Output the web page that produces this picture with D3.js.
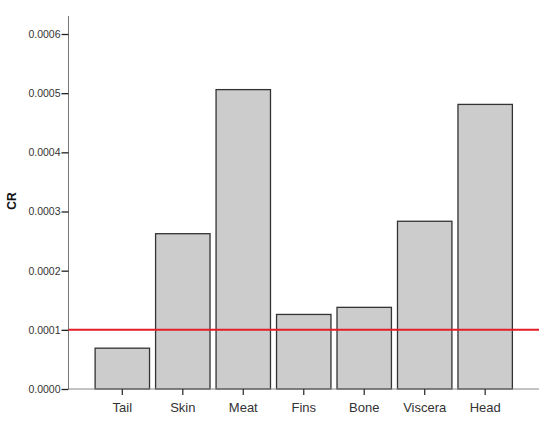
<!DOCTYPE html>
<html><head><meta charset="utf-8">
<script src="https://cdn.jsdelivr.net/npm/d3@7/dist/d3.min.js"></script>
<style>body{margin:0;background:#fff}svg{display:block}</style>
</head><body>
<script>
const categories = ["Tail","Skin","Meat","Fins","Bone","Viscera","Head"];
const values = [0.000069, 0.0002625, 0.000506, 0.000126, 0.000138, 0.0002835, 0.000481];
const yTicks = [0, 0.0001, 0.0002, 0.0003, 0.0004, 0.0005, 0.0006];
const yTickLabels = ["0.0000","0.0001","0.0002","0.0003","0.0004","0.0005","0.0006"];
const refLine = 0.0001;
const yLabel = "CR";

(function(){
const W = 550, H = 423;
const svg = d3.select("body").append("svg").attr("width", W).attr("height", H);

const mLeft = 68.5, mRight = 539, mTop = 16, mBottom = 389;
const y = d3.scaleLinear().domain([0, 0.0006]).range([mBottom, 34]);
const x = d3.scaleBand().domain(categories).range([mLeft, mRight]).paddingInner(0.1).paddingOuter(0.44);

// bars
svg.selectAll("rect.bar").data(categories).enter().append("rect")
  .attr("class","bar")
  .attr("x", d => x(d))
  .attr("y", (d,i) => y(values[i]))
  .attr("width", x.bandwidth())
  .attr("height", (d,i) => y(0) - y(values[i]))
  .attr("fill", "#cccccc")
  .attr("stroke", "#333333")
  .attr("stroke-width", 1.3);

// y axis line
svg.append("line").attr("x1", mLeft).attr("x2", mLeft).attr("y1", mTop).attr("y2", mBottom)
  .attr("stroke", "#777").attr("stroke-width", 1);
// x axis line
svg.append("line").attr("x1", mLeft).attr("x2", mRight).attr("y1", mBottom).attr("y2", mBottom)
  .attr("stroke", "#888").attr("stroke-width", 1);

// y ticks
const yAxis = d3.axisLeft(y).tickValues(yTicks).tickSize(7).tickPadding(1)
  .tickFormat((d,i) => yTickLabels[i]);
const gy = svg.append("g").attr("transform", `translate(${mLeft},0)`).call(yAxis);
gy.select(".domain").remove();
gy.selectAll(".tick line").attr("stroke", "#222").attr("stroke-width", 1.3);
gy.selectAll(".tick text").attr("fill", "#333").style("font-family", "Arial, 'Liberation Sans', sans-serif").style("font-size", "10.5px");

// x ticks
const xAxis = d3.axisBottom(x).tickSize(6).tickPadding(8);
const gx = svg.append("g").attr("transform", `translate(0,${mBottom})`).call(xAxis);
gx.select(".domain").remove();
gx.selectAll(".tick line").attr("stroke", "#333").attr("stroke-width", 1.3);
gx.selectAll(".tick text").attr("fill", "#333").style("font-family", "Arial, 'Liberation Sans', sans-serif").style("font-size", "13px");

// reference line
svg.append("line").attr("x1", mLeft).attr("x2", mRight).attr("y1", y(refLine)).attr("y2", y(refLine))
  .attr("stroke", "#e41e26").attr("stroke-width", 2);

// y label
svg.append("text").attr("transform", `translate(16,201) rotate(-90)`)
  .attr("text-anchor", "middle")
  .style("font-family", "Arial, 'Liberation Sans', sans-serif").style("font-size", "12px").style("font-weight", "bold")
  .attr("fill", "#111").text(yLabel);
})();
</script>
</body></html>
